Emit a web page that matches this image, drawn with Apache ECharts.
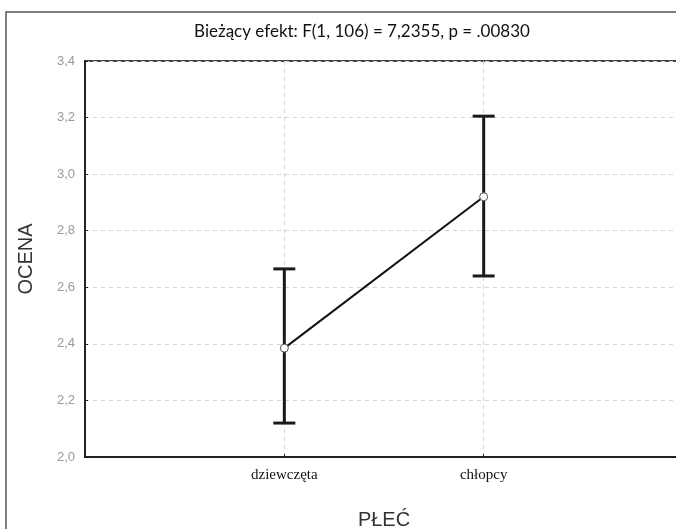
<!DOCTYPE html>
<html>
<head>
<meta charset="utf-8">
<script src="https://cdn.jsdelivr.net/npm/echarts@6/dist/echarts.min.js"></script>
<style>html,body{margin:0;padding:0;background:#fff}#c{width:676px;height:529px}</style>
</head>
<body>
<div id="c"></div>
<script>
var categories = ['dziewczęta', 'chłopcy'];
var catPositions = [1, 2];
var means = [2.385, 2.92];
var lower = [2.12, 2.64];
var upper = [2.665, 3.205];
var yTicks = [2.0, 2.2, 2.4, 2.6, 2.8, 3.0, 3.2, 3.4];

var chart = echarts.init(document.getElementById('c'));
var lineData = catPositions.map(function (p, i) { return [p, means[i]]; });
var errData = catPositions.map(function (p, i) { return [p, lower[i], upper[i]]; });

chart.setOption({
  animation: false,
  backgroundColor: '#fff',
  title: {
    text: 'Bieżący efekt: F(1, 106) = 7,2355, p = .00830',
    left: 357, top: 18, textAlign: 'center',
    textStyle: { fontFamily: 'Lato', fontSize: 17, fontWeight: 'normal', color: '#111' }
  },
  graphic: [{
    type: 'rect', silent: true, z: -1,
    shape: { x: 6, y: 12, width: 700, height: 600 },
    style: { fill: 'none', stroke: '#555', lineWidth: 1.5 }
  }],
  grid: { left: 85, top: 61, height: 396, width: 598, outerBoundsMode: 'none', containLabel: false, show: true, borderColor: '#444', borderWidth: 2, backgroundColor: 'transparent' },
  xAxis: {
    type: 'value', min: 0, max: 3, interval: 1,
    name: 'PŁEĆ', nameLocation: 'middle', nameGap: 53,
    nameTextStyle: { fontFamily: 'Liberation Sans', fontSize: 20, color: '#333' },
    axisLine: { show: true, lineStyle: { color: '#222', width: 2 } },
    axisTick: { show: true, inside: true, length: 3, lineStyle: { color: '#222' } },
    axisLabel: {
      margin: 11, fontFamily: 'Liberation Serif', fontSize: 15, color: '#111',
      formatter: function (v) { var i = catPositions.indexOf(v); return i >= 0 ? categories[i] : ''; }
    },
    splitLine: { show: true, lineStyle: { color: '#d4d4d4', type: [4, 4], width: 1 } }
  },
  yAxis: {
    type: 'value', min: yTicks[0], max: yTicks[yTicks.length - 1], interval: 0.2,
    name: 'OCENA', nameLocation: 'middle', nameGap: 49,
    nameTextStyle: { fontFamily: 'Liberation Sans', fontSize: 20, color: '#333' },
    axisLine: { show: true, lineStyle: { color: '#222', width: 2 } },
    axisTick: { show: true, inside: true, length: 3, lineStyle: { color: '#222' } },
    axisLabel: {
      margin: 10, fontFamily: 'Liberation Sans', fontSize: 13, color: '#999',
      formatter: function (v) { return v.toFixed(1).replace('.', ','); }
    },
    splitLine: { show: true, lineStyle: { color: '#d4d4d4', type: [4, 4], width: 1 } }
  },
  series: [{
    type: 'custom',
    data: errData,
    z: 2,
    renderItem: function (params, api) {
      var x = api.value(0);
      var lo = api.coord([x, api.value(1)]);
      var hi = api.coord([x, api.value(2)]);
      var hw = 11;
      var st = { stroke: '#1a1a1a', lineWidth: 3 };
      return {
        type: 'group',
        children: [
          { type: 'line', shape: { x1: lo[0], y1: lo[1], x2: hi[0], y2: hi[1] }, style: st },
          { type: 'line', shape: { x1: lo[0] - hw, y1: lo[1], x2: lo[0] + hw, y2: lo[1] }, style: st },
          { type: 'line', shape: { x1: hi[0] - hw, y1: hi[1], x2: hi[0] + hw, y2: hi[1] }, style: st }
        ]
      };
    },
    encode: { x: 0, y: [1, 2] }
  }, {
    type: 'line',
    data: lineData,
    z: 3,
    symbol: 'circle', symbolSize: 8,
    lineStyle: { color: '#111', width: 2 },
    itemStyle: { color: '#fff', borderColor: '#555', borderWidth: 1 }
  }]
});
</script>
</body>
</html>
